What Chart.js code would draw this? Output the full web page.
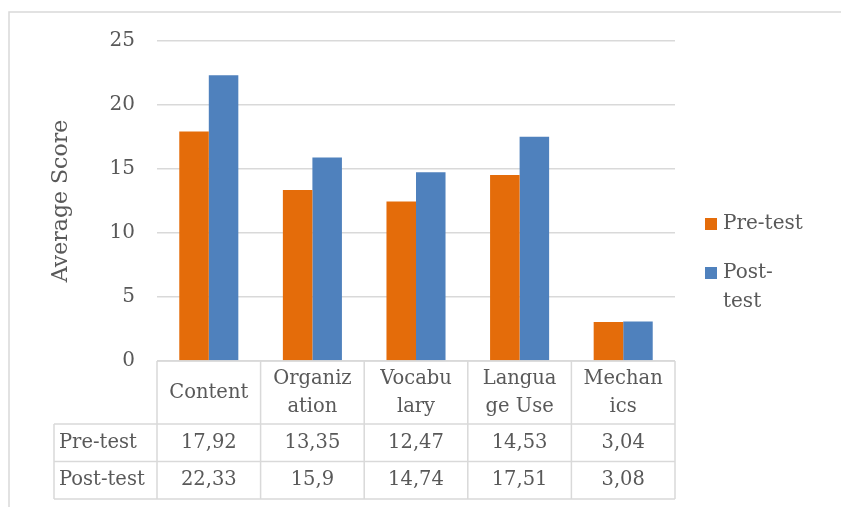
<!DOCTYPE html>
<html>
<head>
<meta charset="utf-8">
<script src="https://cdn.jsdelivr.net/npm/chart.js@4.4.1/dist/chart.umd.min.js"></script>
<style>
  body { margin: 0; background: #fff; }
  #wrap { width: 841px; height: 507px; }
</style>
</head>
<body>
<div id="wrap"><canvas id="myChart" width="841" height="507"></canvas></div>
<script>
var categories = [["Content"], ["Organiz", "ation"], ["Vocabu", "lary"], ["Langua", "ge Use"], ["Mechan", "ics"]];
var preTest = [17.92, 13.35, 12.47, 14.53, 3.04];
var postTest = [22.33, 15.9, 14.74, 17.51, 3.08];
var seriesNames = ["Pre-test", "Post-test"];
var legendLines = [["Pre-test"], ["Post-", "test"]];
var yTicks = [0, 5, 10, 15, 20, 25];

var FONT = "DejaVu Serif";
var TXT = "#595959";
var LINE = "#d9d9d9";
var PADL = 48;

function fmt(v) {
  return String(v).replace(".", ",");
}

var tablePlugin = {
  id: "tablePlugin",
  afterDraw: function (chart) {
    var ctx = chart.ctx;
    var area = chart.chartArea;
    var xs = chart.scales.x;
    var n = categories.length;
    var colW = (area.right - area.left) / n;
    var top = area.bottom;
    var headH = 63, rowH = 37.5;
    var labelLeft = 54;
    var r1 = top + headH, r2 = r1 + rowH, r3 = r2 + rowH;

    ctx.save();
    // outer chart border (top + left only visible)
    ctx.strokeStyle = LINE;
    ctx.lineWidth = 1.5;
    ctx.beginPath();
    ctx.moveTo(9, 507);
    ctx.lineTo(9, 12);
    ctx.lineTo(841, 12);
    ctx.stroke();

    // table grid
    ctx.beginPath();
    ctx.moveTo(area.left, top); ctx.lineTo(area.right, top);
    [r1, r2, r3].forEach(function (y) {
      ctx.moveTo(labelLeft, y); ctx.lineTo(area.right, y);
    });
    ctx.moveTo(labelLeft, r1); ctx.lineTo(labelLeft, r3);
    for (var i = 0; i <= n; i++) {
      var x = area.left + i * colW;
      ctx.moveTo(x, top); ctx.lineTo(x, r3);
    }
    ctx.stroke();

    ctx.fillStyle = TXT;
    ctx.font = "19.5px '" + FONT + "'";
    ctx.textBaseline = "middle";
    ctx.textAlign = "center";
    categories.forEach(function (lines, i) {
      var cx = xs.getPixelForValue(i);
      var lh = 28;
      var y0 = top + headH / 2 - (lines.length - 1) * lh / 2;
      lines.forEach(function (t, k) {
        ctx.fillText(t, cx, y0 + k * lh);
      });
      ctx.fillText(fmt(preTest[i]), cx, r1 + rowH / 2);
      ctx.fillText(fmt(postTest[i]), cx, r2 + rowH / 2);
    });
    ctx.textAlign = "left";
    ctx.fillText(seriesNames[0], labelLeft + 5, r1 + rowH / 2);
    ctx.fillText(seriesNames[1], labelLeft + 5, r2 + rowH / 2);

    // legend
    var lx = 705, ly = [224, 273];
    ctx.font = "20px '" + FONT + "'";
    chart.data.datasets.forEach(function (ds, i) {
      ctx.fillStyle = ds.backgroundColor;
      ctx.fillRect(lx, ly[i] - 6, 12, 12);
      ctx.fillStyle = TXT;
      legendLines[i].forEach(function (t, k) {
        ctx.fillText(t, lx + 18, ly[i] + k * 29);
      });
    });
    ctx.restore();
  }
};

window.onload = function () {
  new Chart(document.getElementById("myChart"), {
    type: "bar",
    data: {
      labels: categories,
      datasets: [
        { label: seriesNames[0], data: preTest, backgroundColor: "#E46C0A" },
        { label: seriesNames[1], data: postTest, backgroundColor: "#4F81BD" }
      ]
    },
    options: {
      responsive: false,
      animation: false,
      categoryPercentage: 0.57,
      barPercentage: 1.0,
      layout: { padding: { left: PADL, top: 41, right: 166, bottom: 138 } },
      plugins: { legend: { display: false }, tooltip: { enabled: false } },
      scales: {
        x: {
          ticks: { display: false },
          grid: { display: false },
          border: { display: false }
        },
        y: {
          min: 0,
          max: 25,
          afterBuildTicks: function (scale) {
            scale.ticks = yTicks.map(function (v) { return { value: v }; });
          },
          afterFit: function (scale) { scale.width = 157 - PADL; },
          grid: { color: LINE, lineWidth: 1.5, drawTicks: false },
          border: { display: false },
          ticks: { color: TXT, font: { family: FONT, size: 20 }, padding: 22 },
          title: {
            display: true,
            text: "Average Score",
            color: TXT,
            font: { family: FONT, size: 22 },
            padding: 0
          }
        }
      }
    },
    plugins: [tablePlugin]
  });
};
</script>
</body>
</html>
